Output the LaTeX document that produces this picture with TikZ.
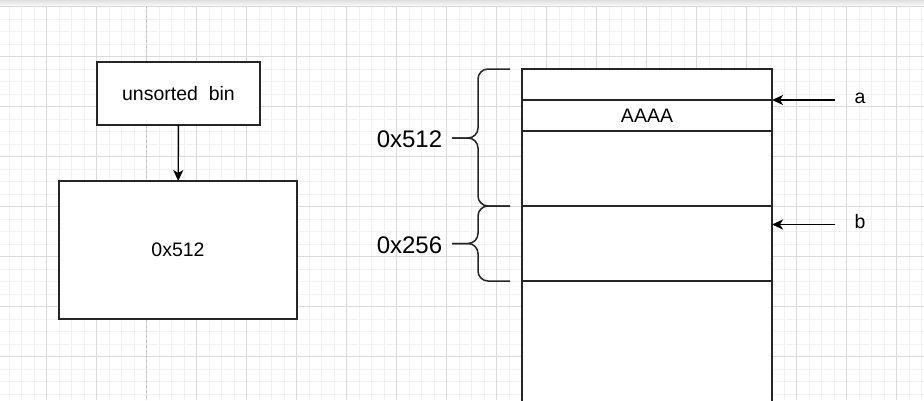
\documentclass[tikz,border=0pt]{standalone}
\usepackage{fontspec}
\setmainfont{Liberation Sans}
\usetikzlibrary{arrows.meta}
\definecolor{minorgrid}{HTML}{F2F2F2}
\definecolor{majorgrid}{HTML}{DADADA}
\definecolor{pagebreak}{HTML}{C4C4C4}
\definecolor{edge}{HTML}{262626}
\tikzset{
  box/.style={draw=edge, line width=1.5pt, fill=white, inner sep=0pt, outer sep=0pt,
    font=\fontsize{19.5}{23}\selectfont},
  cell/.style={box, minimum width=250pt, anchor=north west},
  ptr/.style={draw=black, line width=1.4pt, -{Stealth[length=11pt,width=10pt,inset=3pt]}},
  brace/.style={draw=edge, line width=1.5pt, rounded corners=10pt},
  size/.style={font=\fontsize{24}{28}\selectfont},
  tag/.style={font=\fontsize{19.5}{23}\selectfont}
}
\begin{document}
\begin{tikzpicture}[x=1pt,y=-1pt]
    \useasboundingbox (0,0) rectangle (924,400);
    % Background grid
    \fill[white] (0,0) rectangle (924,400);
    \foreach \i in {0,...,74} {
        \draw[minorgrid, line width=1pt] ({-3.3+12.5*\i},5) -- ({-3.3+12.5*\i},400);
    }
    \foreach \j in {0,...,32} {
        \draw[minorgrid, line width=1pt] (0,{6.7+12.5*\j}) -- (924,{6.7+12.5*\j});
    }
    \foreach \i in {0,...,19} {
        \draw[majorgrid, line width=1pt] ({-3.3+50*\i},5) -- ({-3.3+50*\i},400);
    }
    \foreach \j in {0,...,8} {
        \draw[majorgrid, line width=1pt] (0,{6.7+50*\j}) -- (924,{6.7+50*\j});
    }
    \draw[pagebreak, line width=1.2pt, dash pattern=on 3pt off 2pt] (146.7,5) -- (146.7,400);
    \shade[top color=black!12, bottom color=black!4] (0,0) rectangle (924,5);

    % Unsorted bin
    \node[box, minimum width=163pt, minimum height=63pt] (binhead) at (178.5,93.5) {unsorted\ \ bin};
    \node[box, minimum width=238pt, minimum height=138pt] (binchunk) at (178,250) {0x512};
    \draw[ptr] (binhead) -- (binchunk);

    % Memory layout
    \node[cell, minimum height=31pt] (mtop) at (522,69) {};
    \node[cell, minimum height=31pt] (maaaa) at (522,100) {AAAA};
    \node[cell, minimum height=75pt] (mfree) at (522,131) {};
    \node[cell, minimum height=75pt] (mnext) at (522,206) {};
    \node[cell, minimum height=129pt] (mrest) at (522,281) {};

    % Pointers
    \node[tag] (ptra) at (860,98) {a};
    \node[tag] (ptrb) at (860,222) {b};
    \coordinate (pa) at (835,100);
    \coordinate (pb) at (835,224.5);
    \draw[ptr] (pa) -- (maaaa.north east);
    \draw[ptr] (pb) -- (pb -| mnext.east);

    % Braces with sizes
    \node[size] (sz512) at (409.5,139) {0x512};
    \node[size] (sz256) at (409.5,245) {0x256};
    \draw[brace] (510,69) -- (478,69) -- (478,138) -- (452,138);
    \draw[brace] (452,138) -- (478,138) -- (478,206) -- (510,206);
    \draw[brace] (510,206) -- (478,206) -- (478,243.5) -- (452,243.5);
    \draw[brace] (452,243.5) -- (478,243.5) -- (478,281) -- (510,281);
\end{tikzpicture}
\end{document}
